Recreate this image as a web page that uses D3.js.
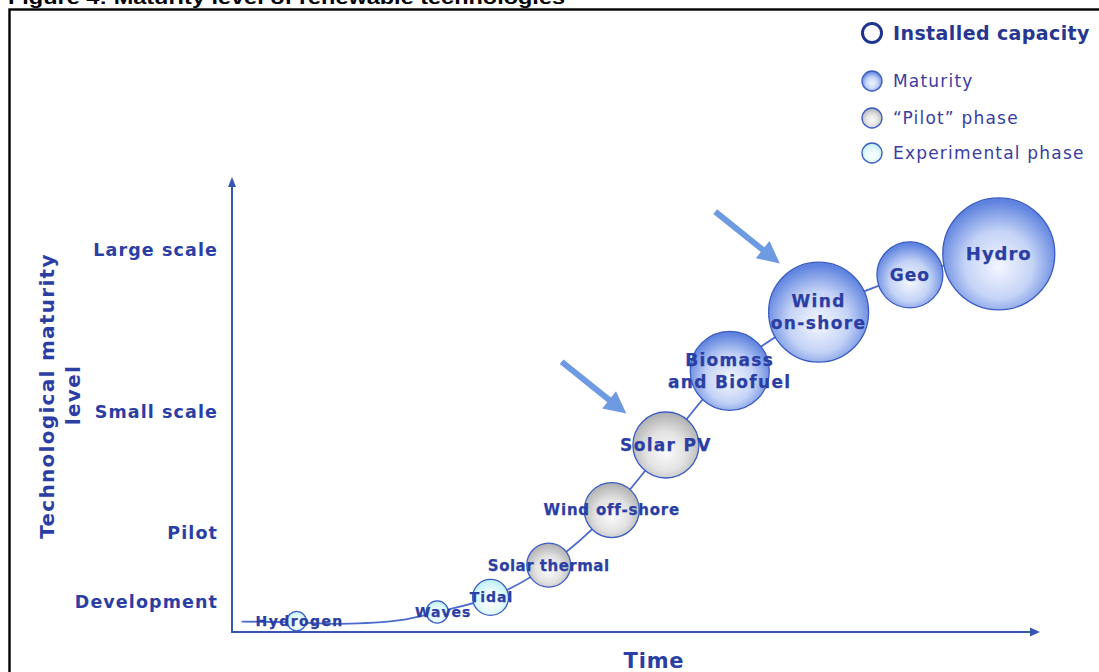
<!DOCTYPE html>
<html>
<head>
<meta charset="utf-8">
<script src="https://cdn.jsdelivr.net/npm/d3@7"></script>
<style>
  html, body { margin: 0; padding: 0; background: #fff; }
  svg { display: block; }
</style>
</head>
<body>
<svg id="chart" width="1099" height="672"></svg>
<script>
// ---------------- data ----------------
const technologies   = ["Hydrogen", "Waves", "Tidal", "Solar thermal", "Wind off-shore", "Solar PV", "Biomass\nand Biofuel", "Wind\non-shore", "Geo", "Hydro"];
const timeValues     = [8.0, 25.4, 32.0, 39.2, 47.0, 53.7, 61.6, 72.6, 83.9, 94.9];
const maturityValues = [2.4, 4.4, 7.6, 14.7, 26.8, 41.1, 57.4, 70.3, 78.5, 83.1];
const capacityValues = [3.0, 3.9, 10.3, 15.4, 24.1, 34.7, 49.8, 79.7, 34.7, 100];
const phaseValues    = ["exp", "exp", "exp", "pilot", "pilot", "pilot", "mat", "mat", "mat", "mat"];

// connecting curve (time, maturity)
const curveTime     = [1.2, 8.0, 13.4, 20.8, 25.4, 32.0, 39.2, 47.0, 53.7, 61.6, 72.6, 83.9, 94.9];
const curveMaturity = [2.3, 2.1, 1.8, 2.6, 4.4, 7.6, 14.7, 26.8, 41.1, 57.4, 70.3, 78.5, 83.1];

// y-axis level labels
const levelLabels = ["Development", "Pilot", "Small scale", "Large scale"];
const levelValues = [6.8, 22.0, 48.4, 84.0];

// highlight arrows (tail -> tip), in data units
const arrowTailTime = [40.8, 59.8];
const arrowTailMat  = [59.4, 92.4];
const arrowTipTime  = [48.8, 67.8];
const arrowTipMat   = [48.0, 81.0];

// legend
const legendPhases = ["mat", "pilot", "exp"];
const legendLabels = ["Maturity", "\u201cPilot\u201d phase", "Experimental phase"];

const titleText = "Figure 4: Maturity level of renewable technologies";

// ---------------- styles ----------------
const BLUE_TEXT = "#2b3ea3";
const AXIS = "#3656b6";
const FONT = "'DejaVu Sans', Verdana, sans-serif";
const labelStyle = {
  "Hydrogen": {size: 14, ls: 1.4, dx: 3},
  "Waves": {size: 14, ls: 1.0, dx: 6},
  "Tidal": {size: 14, ls: 1.0, dx: 1},
  "Solar thermal": {size: 15, ls: 0.5, dx: 0},
  "Wind off-shore": {size: 15, ls: 0.8, dx: 0},
  "Solar PV": {size: 17, ls: 1.3, dx: 0},
  "Biomass\nand Biofuel": {size: 17, ls: 1.3, dx: 0},
  "Wind\non-shore": {size: 17, ls: 1.4, dx: 0},
  "Geo": {size: 17, ls: 1.0, dx: 0},
  "Hydro": {size: 18, ls: 1.0, dx: 0}
};

const svg = d3.select("#chart");

// ---------------- gradients ----------------
const defs = svg.append("defs");
const grads = {
  mat:   ["#f3f6ff", "#c4d3f6", "#5f83df"],
  pilot: ["#fbfbfb", "#e2e2e2", "#b3b3b3"],
  exp:   ["#fbffff", "#e8fbfe", "#c0f0f8"]
};
Object.entries(grads).forEach(([k, c]) => {
  const g = defs.append("radialGradient").attr("id", "g-" + k)
    .attr("cx", "50%").attr("cy", "58%").attr("r", "55%").attr("fx", "50%").attr("fy", "62%");
  g.append("stop").attr("offset", "0%").attr("stop-color", c[0]);
  g.append("stop").attr("offset", "55%").attr("stop-color", c[1]);
  g.append("stop").attr("offset", "100%").attr("stop-color", c[2]);
});

// ---------------- frame & title ----------------
svg.append("rect").attr("x", 9.5).attr("y", 9.5).attr("width", 1200).attr("height", 1000)
  .attr("fill", "none").attr("stroke", "#000").attr("stroke-width", 2.4);
svg.append("text").attr("x", 8).attr("y", 4)
  .attr("font-family", "'Liberation Sans', Arial, sans-serif").attr("font-weight", "bold")
  .attr("font-size", 19).attr("textLength", 557).attr("lengthAdjust", "spacingAndGlyphs")
  .attr("fill", "#000").text(titleText);

// ---------------- scales ----------------
const x = d3.scaleLinear().domain([0, 100]).range([232, 1040]);
const y = d3.scaleLinear().domain([0, 100]).range([632, 177]);
const r = d3.scaleSqrt().domain([0, 100]).range([0, 56]);

// ---------------- axes ----------------
const axisG = svg.append("g");
axisG.append("path")
  .attr("d", `M${x(0)},${y(100) + 8} L${x(0)},${y(0)} L${x(100) - 8},${y(0)}`)
  .attr("fill", "none").attr("stroke", AXIS).attr("stroke-width", 2);
axisG.append("path")
  .attr("d", `M${x(0)},${y(100)} l-4,10 l8,0 z`).attr("fill", AXIS);
axisG.append("path")
  .attr("d", `M${x(100)},${y(0)} l-10,-4.5 l0,9 z`).attr("fill", AXIS);

const yAxis = d3.axisLeft(y).tickValues(levelValues)
  .tickFormat((d, i) => levelLabels[i]).tickSize(0).tickPadding(14);
const yg = svg.append("g").attr("transform", `translate(${x(0)},0)`).call(yAxis);
yg.select(".domain").remove();
yg.selectAll("text")
  .attr("font-family", FONT).attr("font-weight", "bold").attr("font-size", 17.5)
  .attr("letter-spacing", 1.1).attr("fill", BLUE_TEXT).attr("dy", "0.35em");

// axis titles
svg.append("text")
  .attr("transform", `translate(54,${396}) rotate(-90)`)
  .attr("text-anchor", "middle").attr("font-family", FONT).attr("font-weight", "bold")
  .attr("font-size", 20).attr("letter-spacing", 1.3).attr("fill", BLUE_TEXT)
  .text("Technological maturity");
svg.append("text")
  .attr("transform", `translate(80,${395}) rotate(-90)`)
  .attr("text-anchor", "middle").attr("font-family", FONT).attr("font-weight", "bold")
  .attr("font-size", 20).attr("letter-spacing", 1.3).attr("fill", BLUE_TEXT)
  .text("level");
svg.append("text")
  .attr("x", 654).attr("y", 668).attr("text-anchor", "middle")
  .attr("font-family", FONT).attr("font-weight", "bold").attr("font-size", 21)
  .attr("letter-spacing", 0.8).attr("fill", BLUE_TEXT).text("Time");

// ---------------- curve ----------------
const curvePts = curveTime.map((t, i) => [t, curveMaturity[i]]);
svg.append("path")
  .attr("d", d3.line().x(d => x(d[0])).y(d => y(d[1])).curve(d3.curveCatmullRom.alpha(0.5))(curvePts))
  .attr("fill", "none").attr("stroke", "#4a6bcc").attr("stroke-width", 1.8);

// ---------------- bubbles ----------------
const data = technologies.map((name, i) => ({
  name, t: timeValues[i], m: maturityValues[i], c: capacityValues[i], p: phaseValues[i]
}));
svg.append("g").selectAll("circle").data(data).join("circle")
  .attr("cx", d => x(d.t)).attr("cy", d => y(d.m)).attr("r", d => r(d.c))
  .attr("fill", d => `url(#g-${d.p})`)
  .attr("stroke", "#3b5cc2").attr("stroke-width", 1.3);

// labels
const lab = svg.append("g").selectAll("text").data(data).join("text")
  .attr("text-anchor", "middle")
  .attr("font-family", FONT).attr("font-weight", "bold")
  .attr("font-size", d => labelStyle[d.name].size)
  .attr("letter-spacing", d => labelStyle[d.name].ls)
  .attr("fill", BLUE_TEXT)
  .attr("stroke", BLUE_TEXT).attr("stroke-width", 0.25);
lab.each(function(d) {
  const lines = d.name.split("\n");
  const sel = d3.select(this);
  const cx = x(d.t) + labelStyle[d.name].dx, cy = y(d.m);
  const lh = 22;
  lines.forEach((ln, j) => {
    sel.append("tspan").attr("x", cx)
      .attr("y", cy + (j - (lines.length - 1) / 2) * lh)
      .attr("dy", "0.36em").text(ln);
  });
});

// ---------------- arrows ----------------
const ARROW = "#6e9ae2";
arrowTailTime.forEach((tt, i) => {
  const x0 = x(tt), y0 = y(arrowTailMat[i]), x1 = x(arrowTipTime[i]), y1 = y(arrowTipMat[i]);
  const dx = x1 - x0, dy = y1 - y0, L = Math.hypot(dx, dy);
  const ux = dx / L, uy = dy / L, nx = -uy, ny = ux;
  const hl = 22, hw = 11, sw = 3;
  const bx = x1 - ux * hl, by = y1 - uy * hl;
  const pts = [
    [x0 + nx * sw, y0 + ny * sw],
    [bx + nx * sw, by + ny * sw],
    [bx + nx * hw, by + ny * hw],
    [x1, y1],
    [bx - nx * hw, by - ny * hw],
    [bx - nx * sw, by - ny * sw],
    [x0 - nx * sw, y0 - ny * sw]
  ];
  svg.append("path").attr("d", "M" + pts.map(p => p.join(",")).join("L") + "Z").attr("fill", ARROW);
});

// ---------------- legend ----------------
const lg = svg.append("g");
lg.append("circle").attr("cx", 872).attr("cy", 33).attr("r", 9.5)
  .attr("fill", "#fff").attr("stroke", "#1e3290").attr("stroke-width", 3);
lg.append("text").attr("x", 893).attr("y", 33).attr("dy", "0.36em")
  .attr("font-family", FONT).attr("font-weight", "bold").attr("font-size", 19)
  .attr("letter-spacing", 0.4).attr("fill", "#27368f").text("Installed capacity");
const legY = [81, 118, 153];
legendPhases.forEach((p, i) => {
  lg.append("circle").attr("cx", 872).attr("cy", legY[i]).attr("r", 10)
    .attr("fill", `url(#g-${p})`).attr("stroke", "#3b5cc2").attr("stroke-width", 1.3);
  lg.append("text").attr("x", 893).attr("y", legY[i]).attr("dy", "0.36em")
    .attr("font-family", FONT).attr("font-size", 17).attr("letter-spacing", 1.2)
    .attr("fill", "#3a3c9f").text(legendLabels[i]);
});
</script>
</body>
</html>
